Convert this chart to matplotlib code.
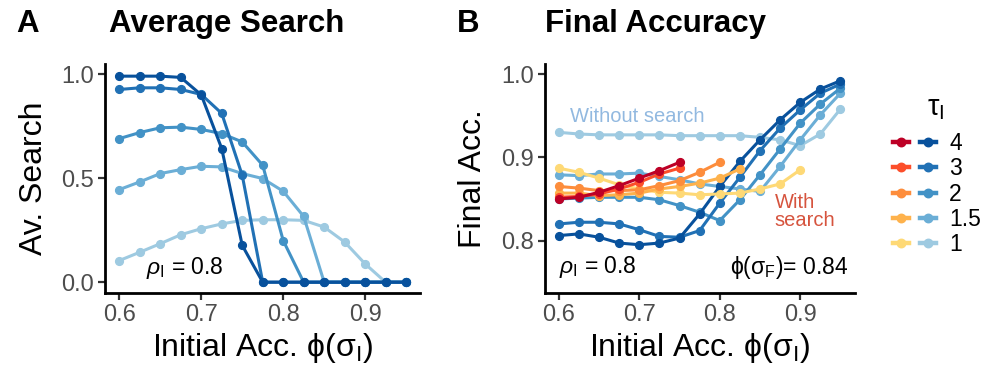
import matplotlib.pyplot as plt
from matplotlib.legend_handler import HandlerTuple
from matplotlib.lines import Line2D

plt.rcParams['font.family'] = ['Liberation Sans', 'DejaVu Sans']
plt.rcParams['mathtext.fontset'] = 'custom'
plt.rcParams['mathtext.rm'] = 'Liberation Sans'
plt.rcParams['mathtext.it'] = 'Liberation Sans:italic'
plt.rcParams['mathtext.bf'] = 'Liberation Sans:bold'

# initial accuracy grid
phi_i = [0.6, 0.625, 0.65, 0.675, 0.7, 0.725, 0.75, 0.775,
         0.8, 0.825, 0.85, 0.875, 0.9, 0.925, 0.95]
taus = ['4', '3', '2', '1.5', '1']

# average search, one list per tau
search = {
    '4':   [0.99, 0.99, 0.99, 0.984, 0.90, 0.642, 0.177, 0, 0, 0, 0, 0, 0, 0, 0],
    '3':   [0.926, 0.934, 0.934, 0.926, 0.902, 0.811, 0.514, 0, 0, 0, 0, 0, 0, 0, 0],
    '2':   [0.69, 0.719, 0.742, 0.745, 0.734, 0.714, 0.674, 0.562, 0.20, 0, 0, 0, 0, 0, 0],
    '1.5': [0.445, 0.482, 0.522, 0.541, 0.557, 0.554, 0.522, 0.498, 0.437, 0.316, 0, 0, 0, 0, 0],
    '1':   [0.104, 0.144, 0.185, 0.228, 0.257, 0.28, 0.297, 0.30, 0.30, 0.297, 0.265, 0.193, 0.088, 0, 0],
}

# final accuracy without search (all initial accuracies)
acc_no_search = {
    '4':   [0.806, 0.808, 0.804, 0.797, 0.795, 0.797, 0.803, 0.832, 0.865, 0.895, 0.921, 0.945, 0.966, 0.982, 0.992],
    '3':   [0.820, 0.822, 0.822, 0.820, 0.813, 0.805, 0.804, 0.812, 0.845, 0.876, 0.908, 0.935, 0.957, 0.977, 0.988],
    '2':   [0.850, 0.851, 0.852, 0.852, 0.852, 0.849, 0.842, 0.834, 0.824, 0.849, 0.879, 0.910, 0.941, 0.964, 0.983],
    '1.5': [0.879, 0.878, 0.880, 0.880, 0.881, 0.877, 0.873, 0.868, 0.865, 0.862, 0.859, 0.889, 0.921, 0.951, 0.977],
    '1':   [0.930, 0.928, 0.927, 0.927, 0.927, 0.927, 0.926, 0.926, 0.926, 0.926, 0.924, 0.921, 0.914, 0.928, 0.958],
}

# final accuracy with search (only where search > 0)
acc_search = {
    '4':   [0.850, 0.852, 0.858, 0.866, 0.875, 0.884, 0.894],
    '3':   [0.852, 0.853, 0.856, 0.862, 0.870, 0.880, 0.887],
    '2':   [0.865, 0.863, 0.860, 0.860, 0.861, 0.866, 0.872, 0.882, 0.894],
    '1.5': [0.857, 0.857, 0.854, 0.855, 0.857, 0.862, 0.865, 0.869, 0.875, 0.886],
    '1':   [0.887, 0.882, 0.875, 0.867, 0.862, 0.858, 0.857, 0.855, 0.856, 0.857, 0.862, 0.868, 0.885],
}

blues = {'4': '#08519C', '3': '#2171B5', '2': '#4292C6', '1.5': '#6BAED6', '1': '#9ECAE1'}
reds = {'4': '#BD0026', '3': '#FC4E2A', '2': '#FD8D3C', '1.5': '#FEB24C', '1': '#FED976'}

LW = 2.2
MS = 5.6
TICK_COL = '#4D4D4D'

fig = plt.figure(figsize=(9.97, 3.79), dpi=100)
axA = fig.add_axes([0.1053, 0.228, 0.3164, 0.604])
axB = fig.add_axes([0.5464, 0.228, 0.3107, 0.604])

for ax in (axA, axB):
    for side in ('top', 'right'):
        ax.spines[side].set_visible(False)
    for side in ('left', 'bottom'):
        ax.spines[side].set_linewidth(2.0)
        ax.spines[side].set_color('black')
    ax.tick_params(axis='both', length=5.0, width=1.6, color='#333333',
                   labelsize=17, labelcolor=TICK_COL, pad=3)
    ax.set_xlim(0.5825, 0.9675)
    ax.set_xticks([0.6, 0.7, 0.8, 0.9])
    ax.set_xticklabels(['0.6', '0.7', '0.8', '0.9'])
    ax.set_xlabel('Initial Acc. ϕ(σ$_{\\rm I}$)', fontsize=23, labelpad=4)

# A: average search
for t in taus[::-1]:
    axA.plot(phi_i, search[t], '-o', color=blues[t], lw=LW, ms=MS, clip_on=False)
axA.set_ylim(-0.05, 1.05)
axA.set_yticks([0.0, 0.5, 1.0])
axA.set_yticklabels(['0.0', '0.5', '1.0'])
axA.set_ylabel('Av. Search', fontsize=23, labelpad=9)
axA.text(0.633, 0.066, r'$\rho_{\rm I}$ = 0.8', fontsize=16.5, va='center', ha='left')

# B: final accuracy
for t in taus[::-1]:
    axB.plot(phi_i, acc_no_search[t], '-o', color=blues[t], lw=LW, ms=MS, clip_on=False)
for t in taus[::-1]:
    n = len(acc_search[t])
    axB.plot(phi_i[:n], acc_search[t], '-o', color=reds[t], lw=LW, ms=MS, clip_on=False)
axB.set_ylim(0.7375, 1.0125)
axB.set_yticks([0.8, 0.9, 1.0])
axB.set_yticklabels(['0.8', '0.9', '1.0'])
axB.set_ylabel('Final Acc.', fontsize=23, labelpad=9)
axB.text(0.6, 0.768, r'$\rho_{\rm I}$ = 0.8', fontsize=16.5, va='center', ha='left')
axB.text(0.96, 0.768, 'ϕ(σ$_{\\rm F}$)= 0.84', fontsize=16.5, va='center', ha='right')
axB.text(0.6136, 0.949, 'Without search', fontsize=14.5, color='#92B9E0', va='center', ha='left')
axB.text(0.868, 0.835, 'With\nsearch', fontsize=14.5, color='#D6543E', va='center', ha='left',
         linespacing=0.95)

# panel letters and titles
fig.text(27.5 / 997, 1 - 24 / 379, 'A', fontsize=22.5, fontweight='bold', ha='center', va='center')
fig.text(109 / 997, 1 - 24 / 379, 'Average Search', fontsize=22.5, fontweight='bold', ha='left', va='center')
fig.text(468 / 997, 1 - 24 / 379, 'B', fontsize=22.5, fontweight='bold', ha='center', va='center')
fig.text(545 / 997, 1 - 24 / 379, 'Final Accuracy', fontsize=22.5, fontweight='bold', ha='left', va='center')

# legend: red (with search) and blue (without search) per tau
handles = []
for t in taus:
    r = Line2D([], [], color=reds[t], lw=LW + 1, marker='o', ms=MS + 0.5)
    b = Line2D([], [], color=blues[t], lw=LW + 1, marker='o', ms=MS + 0.5)
    handles.append((r, b))
fig.legend(handles, taus, handler_map={tuple: HandlerTuple(ndivide=None, pad=0.5)},
           loc='upper left', bbox_to_anchor=(884 / 997, 1 - 123 / 379),
           frameon=False, fontsize=16.5, handlelength=1.85, handletextpad=0.6,
           labelspacing=0.1, borderpad=0.4, borderaxespad=0.0)
fig.text(936 / 997, 1 - 108 / 379, 'τ$_{\\rm I}$', fontsize=21, ha='center', va='center')

fig.savefig('out.png', dpi=100)
